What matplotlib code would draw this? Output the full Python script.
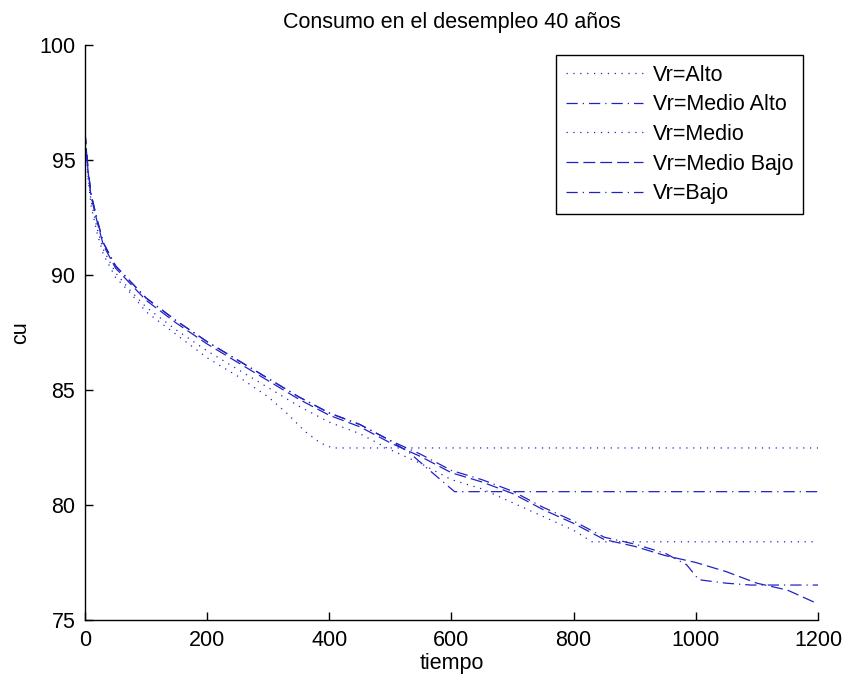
import matplotlib
matplotlib.use("Agg")
import matplotlib.pyplot as plt

plt.rcParams['font.family'] = ['Liberation Sans', 'DejaVu Sans']

# ---- data ----
t_alto = [0, 5, 10, 20, 30, 50, 75, 100, 150, 200, 250, 300, 330, 360, 385, 405, 1200]
cu_alto = [96.0, 94.2, 93.0, 91.8, 90.9, 89.9, 89.2, 88.4, 87.4, 86.4, 85.6, 84.7, 84.0, 83.2, 82.7, 82.48, 82.48]

t_medio_alto = [0, 5, 10, 20, 30, 50, 75, 100, 150, 200, 250, 300, 350, 400, 450, 500, 530, 560, 605, 1200]
cu_medio_alto = [96.2, 94.6, 93.5, 92.4, 91.4, 90.4, 89.7, 89.0, 88.0, 87.1, 86.3, 85.5, 84.7, 84.0, 83.5, 82.8, 82.3, 81.6, 80.58, 80.58]

t_medio = [0, 5, 10, 20, 30, 50, 75, 100, 150, 200, 250, 300, 350, 400, 450, 500, 550, 600, 650, 700, 750, 800, 830, 1200]
cu_medio = [96.1, 94.3, 93.2, 92.0, 91.1, 90.1, 89.3, 88.6, 87.6, 86.7, 85.9, 85.1, 84.3, 83.6, 83.1, 82.4, 81.8, 81.1, 80.7, 80.1, 79.5, 78.9, 78.4, 78.4]

t_medio_bajo = [0, 5, 10, 20, 30, 50, 75, 100, 150, 200, 250, 300, 350, 400, 450, 500, 550, 600, 650, 700, 750, 800, 850, 900, 950, 1000, 1050, 1100, 1150, 1200]
cu_medio_bajo = [96.2, 94.5, 93.4, 92.3, 91.3, 90.3, 89.6, 88.9, 87.9, 87.0, 86.2, 85.4, 84.6, 83.9, 83.4, 82.7, 82.1, 81.4, 81.0, 80.5, 79.8, 79.2, 78.5, 78.2, 77.8, 77.5, 77.1, 76.6, 76.3, 75.7]

t_bajo = [0, 5, 10, 20, 30, 50, 75, 100, 150, 200, 250, 300, 350, 400, 450, 500, 550, 600, 650, 700, 750, 800, 850, 900, 950, 985, 1005, 1050, 1090, 1200]
cu_bajo = [96.2, 94.6, 93.5, 92.4, 91.4, 90.4, 89.7, 89.0, 88.0, 87.1, 86.3, 85.5, 84.7, 84.0, 83.5, 82.8, 82.2, 81.5, 81.1, 80.6, 79.9, 79.3, 78.6, 78.3, 77.9, 77.4, 76.75, 76.6, 76.52, 76.52]

labels = ['Vr=Alto', 'Vr=Medio Alto', 'Vr=Medio', 'Vr=Medio Bajo', 'Vr=Bajo']
x_ticks = [0, 200, 400, 600, 800, 1000, 1200]
y_ticks = [75, 80, 85, 90, 95, 100]

# ---- drawing ----
fig = plt.figure(figsize=(8.45, 6.84), dpi=100)
ax = fig.add_axes([85 / 845, 1 - 620 / 684, (818 - 85) / 845, (620 - 45) / 684])

blue = '#2222c4'
lw = 0.9
dot = (0, (1, 4.5))
dashdot = (0, (9, 4, 1, 4))
dashed = (0, (9.5, 4))

ax.plot(t_alto, cu_alto, color=blue, lw=lw, linestyle=dot, label=labels[0])
ax.plot(t_medio_alto, cu_medio_alto, color=blue, lw=lw, linestyle=dashdot, label=labels[1])
ax.plot(t_medio, cu_medio, color=blue, lw=lw, linestyle=dot, label=labels[2])
ax.plot(t_medio_bajo, cu_medio_bajo, color=blue, lw=lw, linestyle=dashed, label=labels[3])
ax.plot(t_bajo, cu_bajo, color=blue, lw=lw, linestyle=dashdot, label=labels[4])

ax.set_xlim(0, 1200)
ax.set_ylim(75, 100)
ax.set_xticks(x_ticks)
ax.set_yticks(y_ticks)
fs = 15.5
ax.tick_params(direction='in', length=6, width=1, labelsize=fs, pad=7)
ax.spines['top'].set_visible(False)
ax.spines['right'].set_visible(False)
ax.spines['left'].set_linewidth(1)
ax.spines['bottom'].set_linewidth(1)

ax.set_title('Consumo en el desempleo 40 años', fontsize=fs, pad=12)
ax.set_xlabel('tiempo', fontsize=fs, labelpad=2)
ax.set_ylabel('cu', fontsize=fs, labelpad=6)

leg = ax.legend(loc='upper right', bbox_to_anchor=(803 / 845, 1 - 55 / 684),
                bbox_transform=fig.transFigure, borderaxespad=0, fontsize=fs,
                handlelength=3.6, labelspacing=0.4, handletextpad=0.45,
                fancybox=False, framealpha=1, edgecolor='black', borderpad=0.45)
leg.get_frame().set_linewidth(1)

fig.savefig('out.png', dpi=100)
